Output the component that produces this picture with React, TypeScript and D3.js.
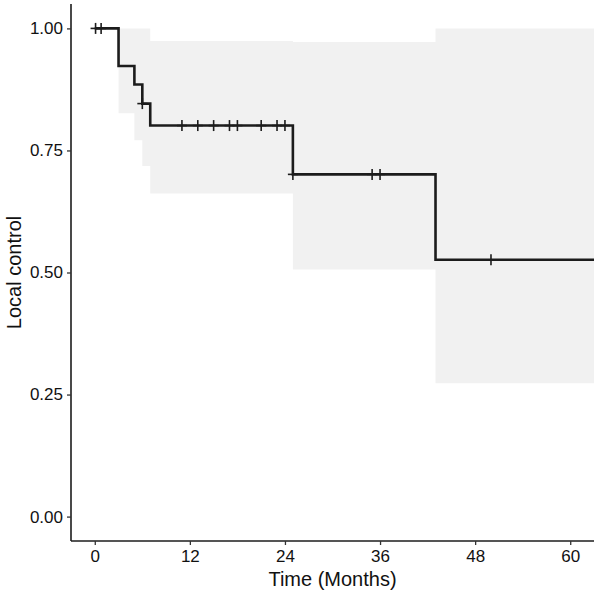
import React, { useEffect, useRef } from "react";
import * as d3 from "d3";

// Kaplan-Meier steps
const stepTimes = [0, 3, 5, 6, 7, 25, 43];
const survival = [1, 0.923, 0.885, 0.846, 0.801, 0.701, 0.526];
const upperCI = [1, 1, 1, 1, 0.974, 0.972, 1];
const lowerCI = [1, 0.826, 0.771, 0.718, 0.662, 0.506, 0.273];
const endTime = 63;

const censorTimes = [0.1, 0.8, 6, 11, 13, 15, 17, 18, 21, 23, 24, 25, 35, 36, 50];

const xTicks = [0, 12, 24, 36, 48, 60];
const yTicks = [0, 0.25, 0.5, 0.75, 1];

const W = 598;
const H = 596;
const FONT = "'Liberation Sans', Arial, Helvetica, sans-serif";

export default function App() {
  const svgRef = useRef<SVGSVGElement>(null);

  useEffect(() => {
    document.body.style.margin = "0";
    const svg = d3.select(svgRef.current);
    svg.selectAll("*").remove();

    const x = d3.scaleLinear().domain([-3, 63]).range([71, 594]);
    const y = d3.scaleLinear().domain([-0.05, 1.05]).range([541, 4]);

    // step data, extended to the end of follow-up
    const steps = stepTimes.map((t, i) => ({ t, s: survival[i], lo: lowerCI[i], hi: upperCI[i] }));
    steps.push({ t: endTime, s: survival[survival.length - 1], lo: lowerCI[lowerCI.length - 1], hi: upperCI[upperCI.length - 1] });

    // confidence band
    const band = d3.area<any>()
      .x(d => x(d.t))
      .y0(d => y(d.lo))
      .y1(d => y(d.hi))
      .curve(d3.curveStepAfter);
    svg.append("path")
      .datum(steps)
      .attr("d", band)
      .attr("fill", "#f1f1f1");

    // survival curve
    const line = d3.line<any>()
      .x(d => x(d.t))
      .y(d => y(d.s))
      .curve(d3.curveStepAfter);
    svg.append("path")
      .datum(steps)
      .attr("d", line)
      .attr("fill", "none")
      .attr("stroke", "#1c1c1c")
      .attr("stroke-width", 2.6);

    // censor marks
    const survAt = (t: number) => {
      let s = survival[0];
      stepTimes.forEach((st, i) => { if (st <= t) s = survival[i]; });
      return s;
    };
    const marks = svg.append("g").attr("stroke", "#1c1c1c").attr("stroke-width", 1.6);
    censorTimes.forEach(t => {
      const cx = x(t), cy = y(survAt(t));
      marks.append("line").attr("x1", cx - 5).attr("x2", cx + 5).attr("y1", cy).attr("y2", cy);
      marks.append("line").attr("x1", cx).attr("x2", cx).attr("y1", cy - 5.5).attr("y2", cy + 5.5);
    });

    // axes
    const xAxis = svg.append("g")
      .attr("transform", `translate(0,541)`)
      .call(d3.axisBottom(x).tickValues(xTicks).tickSize(4).tickPadding(5).tickFormat(d3.format("d")));
    const yAxis = svg.append("g")
      .attr("transform", `translate(71,0)`)
      .call(d3.axisLeft(y).tickValues(yTicks).tickSize(4).tickPadding(4).tickFormat(d3.format(".2f")));

    [xAxis, yAxis].forEach(a => {
      a.select(".domain").attr("stroke", "#1c1c1c").attr("stroke-width", 1.6);
      a.selectAll(".tick line").attr("stroke", "#333").attr("stroke-width", 1.3);
      a.selectAll(".tick text")
        .attr("fill", "#111")
        .style("font-family", FONT)
        .style("font-size", "17px");
    });
    xAxis.select(".domain").attr("d", `M${x.range()[0]},0H${x.range()[1]}`);
    yAxis.select(".domain").attr("d", `M0,${y.range()[0]}V${y.range()[1]}`);

    // titles
    svg.append("text")
      .attr("x", (x.range()[0] + x.range()[1]) / 2)
      .attr("y", 586)
      .attr("text-anchor", "middle")
      .style("font-family", FONT)
      .style("font-size", "20px")
      .attr("fill", "#111")
      .text("Time (Months)");

    svg.append("text")
      .attr("transform", `translate(21,${(y.range()[0] + y.range()[1]) / 2}) rotate(-90)`)
      .attr("text-anchor", "middle")
      .style("font-family", FONT)
      .style("font-size", "20px")
      .attr("fill", "#111")
      .text("Local control");
  }, []);

  return <svg ref={svgRef} width={W} height={H} style={{ display: "block", background: "#fff" }} />;
}
